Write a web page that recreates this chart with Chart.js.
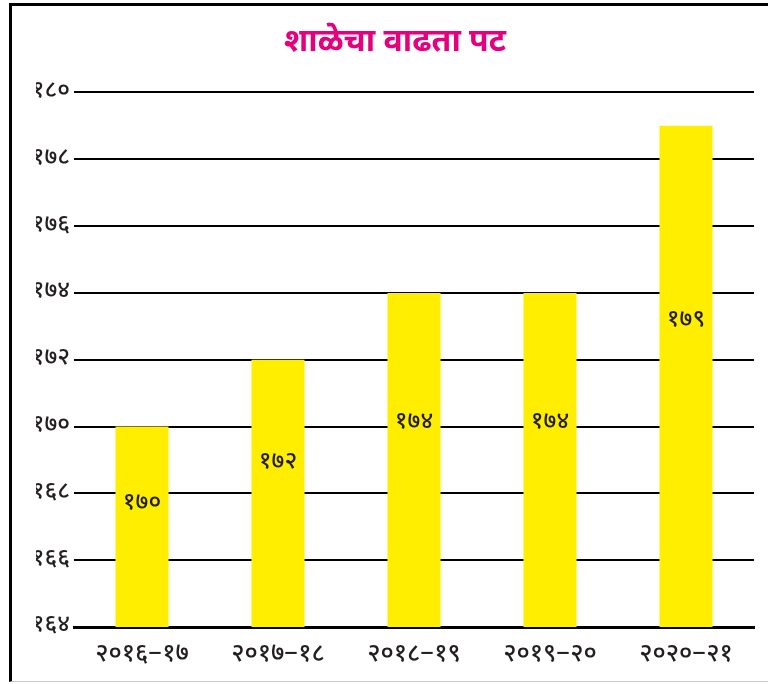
<!DOCTYPE html>
<html>
<head>
<meta charset="utf-8">
<script src="https://cdn.jsdelivr.net/npm/chart.js@4/dist/chart.umd.min.js"></script>
<style>
  html, body { margin: 0; padding: 0; background: #fff; }
  #wrap { position: relative; width: 768px; height: 684px; }
  #frame { position: absolute; left: 9px; top: 3px; width: 800px; height: 679px;
           border-left: 3px solid #000; border-top: 3px solid #000;
           border-bottom: 1px solid #c8c8c8; box-sizing: border-box; pointer-events: none; }
  canvas { position: absolute; left: 0; top: 0; }
</style>
</head>
<body>
<div id="wrap">
  <canvas id="grafPat" width="768" height="684"></canvas>
  <div id="frame"></div>
</div>
<script>
// डेटा: शाळेचा वाढता पट
var titre = 'शाळेचा वाढता पट';
var varsha = ['२०१६−१७', '२०१७−१८', '२०१८−१९', '२०१९−२०', '२०२०−२१'];
var pat = [170, 172, 174, 174, 179];
var yTickValues = [164, 166, 168, 170, 172, 174, 176, 178, 180];
var yTickLabels = ['१६४', '१६६', '१६८', '१७०', '१७२', '१७४', '१७६', '१७८', '१८०'];

var devFont = "'Noto Sans Devanagari', 'Noto Sans', 'DejaVu Sans', sans-serif";

function devanagari(n) {
  var d = ['०','१','२','३','४','५','६','७','८','९'];
  return String(n).replace(/[0-9]/g, function (c) { return d[+c]; });
}

// bar value labels inside each bar (bars start below the axis min, so clip base to chart area)
var patLabels = {
  id: 'patLabels',
  afterDatasetsDraw: function (chart) {
    var ctx = chart.ctx;
    var meta = chart.getDatasetMeta(0);
    var bottom = chart.chartArea.bottom;
    ctx.save();
    ctx.fillStyle = '#231f20';
    ctx.font = '500 24px ' + devFont;
    ctx.textAlign = 'center';
    ctx.textBaseline = 'middle';
    meta.data.forEach(function (bar, i) {
      var base = Math.min(bar.base, bottom);
      var y = bar.y + (base - bar.y) * 0.39;
      ctx.fillText(devanagari(pat[i]), bar.x, y);
    });
    ctx.restore();
  }
};

function dibujarPat() {
  var ctx = document.getElementById('grafPat');
  new Chart(ctx, {
    type: 'bar',
    data: {
      labels: varsha,
      datasets: [{
        data: pat,
        backgroundColor: '#ffee00',
        borderWidth: 0,
        barPercentage: 0.39,
        categoryPercentage: 1.0
      }]
    },
    options: {
      responsive: false,
      animation: false,
      layout: { padding: { left: 36, right: 14, top: 6, bottom: 7 } },
      plugins: {
        legend: { display: false },
        tooltip: { enabled: false },
        title: {
          display: true,
          text: titre,
          color: '#e5007e',
          font: { family: devFont, size: 32, weight: 'bold' },
          padding: { top: 20, bottom: 28 }
        }
      },
      scales: {
        x: {
          grid: { display: false },
          border: { display: true, color: '#000', width: 3 },
          ticks: {
            color: '#231f20',
            font: { family: devFont, size: 25, weight: '500' },
            padding: 6,
            maxRotation: 0
          }
        },
        y: {
          min: 164,
          max: 180,
          afterBuildTicks: function (scale) {
            scale.ticks = yTickValues.map(function (v) { return { value: v }; });
          },
          afterFit: function (scale) { scale.width = 38; },
          border: { display: false },
          grid: { color: '#000', lineWidth: 2, drawTicks: false },
          ticks: {
            color: '#231f20',
            font: { family: devFont, size: 24, weight: '500' },
            padding: 4,
            callback: function (value) {
              var i = yTickValues.indexOf(value);
              return i >= 0 ? yTickLabels[i] : '';
            }
          }
        }
      }
    },
    plugins: [patLabels]
  });
}

dibujarPat();
</script>
</body>
</html>
